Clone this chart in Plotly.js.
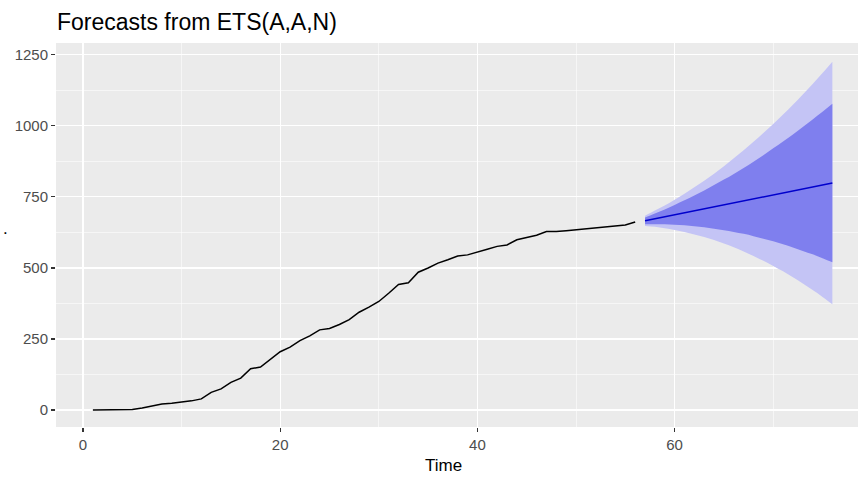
<!DOCTYPE html>
<html>
<head>
<meta charset="utf-8">
<script src="https://cdn.plot.ly/plotly-3.0.1.min.js"></script>
<style>html,body{margin:0;padding:0;background:#fff;}#chart{width:858px;height:478px;}</style>
</head>
<body>
<div id="chart"></div>
<script>
// Historical series (Time 1..56)
const histTime = [];
for (let i = 1; i <= 56; i++) histTime.push(i);
const histValues = [0,0,0,0,2,7,15,21,24,27,32,39,62,74,97,112,145,151,178,205,
  221,244,261,282,287,301,318,344,362,382,411,442,448,485,500,517,529,542,546,557,
  566,576,581,599,608,615,628,628,631,634,637,640,644,648,651,662];

// Forecast horizon (Time 57..76)
const fcTime = [];
for (let i = 57; i <= 76; i++) fcTime.push(i);
const fcMean = [666,673,680,687,694,701,708,715,722,729,736,743,750,757,764,771,778,785,792,799];
const fcHi95 = [684,702,720,740,761,784,807,832,858,886,914,944,975,1007,1040,1075,1111,1148,1186,1226];
const fcLo95 = [648,645,640,634,627,618,609,598,586,573,558,542,525,507,488,467,445,422,398,372];
const fcHi80 = [678,692,706,722,738,755,773,792,811,831,852,874,897,921,945,970,996,1023,1050,1078];
const fcLo80 = [654,654,654,652,650,647,643,638,633,627,620,612,603,594,583,572,560,548,534,520];

const xTicks = [0,20,40,60];
const yTicks = [0,250,500,750,1000,1250];

const FONT = 'Liberation Sans, Arial, Helvetica, sans-serif';

const traces = [
  {x: fcTime, y: fcLo95, type:'scatter', mode:'lines', line:{width:0, color:'#C4C4F5', shape:'spline'}, hoverinfo:'skip', showlegend:false},
  {x: fcTime, y: fcHi95, type:'scatter', mode:'lines', line:{width:0, color:'#C4C4F5', shape:'spline'}, fill:'tonexty', fillcolor:'#C4C4F5', hoverinfo:'skip', showlegend:false},
  {x: fcTime, y: fcLo80, type:'scatter', mode:'lines', line:{width:0, color:'#7F7FEE', shape:'spline'}, hoverinfo:'skip', showlegend:false},
  {x: fcTime, y: fcHi80, type:'scatter', mode:'lines', line:{width:0, color:'#7F7FEE', shape:'spline'}, fill:'tonexty', fillcolor:'#7F7FEE', hoverinfo:'skip', showlegend:false},
  {x: fcTime, y: fcMean, type:'scatter', mode:'lines', line:{width:1.5, color:'#0000CC'}, showlegend:false},
  {x: histTime, y: histValues, type:'scatter', mode:'lines', line:{width:1.5, color:'#000000'}, showlegend:false}
];

const layout = {
  width: 858, height: 478,
  margin: {l:56, r:0, t:43, b:51, pad:0},
  paper_bgcolor:'#FFFFFF',
  plot_bgcolor:'#EBEBEB',
  font:{family:FONT, color:'#4D4D4D'},
  title:{text:'Forecasts from ETS(A,A,N)', font:{family:FONT, size:23, color:'#000000'},
         x:57/858, xanchor:'left', xref:'container', y:1-22/478, yanchor:'middle', yref:'container'},
  xaxis:{
    range:[-2.74, 78.6], tickvals:xTicks, ticktext:xTicks.map(String),
    ticks:'outside', ticklen:4, tickwidth:1.1, tickcolor:'#333333',
    tickfont:{family:FONT, size:15, color:'#4D4D4D'},
    showgrid:true, gridcolor:'#FFFFFF', gridwidth:1.1, zeroline:false, showline:false,
    minor:{dtick:10, tick0:0, showgrid:true, gridcolor:'#FFFFFF', gridwidth:0.55, ticks:''},
    title:{text:''}
  },
  yaxis:{
    range:[-60, 1292], tickvals:yTicks, ticktext:yTicks.map(String),
    ticks:'outside', ticklen:4, tickwidth:1.1, tickcolor:'#333333',
    tickfont:{family:FONT, size:15, color:'#4D4D4D'},
    showgrid:true, gridcolor:'#FFFFFF', gridwidth:1.1, zeroline:false, showline:false,
    minor:{dtick:125, tick0:0, showgrid:true, gridcolor:'#FFFFFF', gridwidth:0.55, ticks:''},
    title:{text:''}
  },
  annotations:[
    {text:'Time', xref:'paper', yref:'paper', x:(443-56)/802, y:-(465-427)/384, xanchor:'center', yanchor:'middle',
     showarrow:false, font:{family:FONT, size:17, color:'#000000'}},
    {text:'.', xref:'paper', yref:'paper', x:(1-56)/802, y:(427-228)/384, xanchor:'left', yanchor:'middle',
     showarrow:false, font:{family:FONT, size:17, color:'#000000'}}
  ],
  showlegend:false
};

Plotly.newPlot('chart', traces, layout, {staticPlot:true, displayModeBar:false});
</script>
</body>
</html>
